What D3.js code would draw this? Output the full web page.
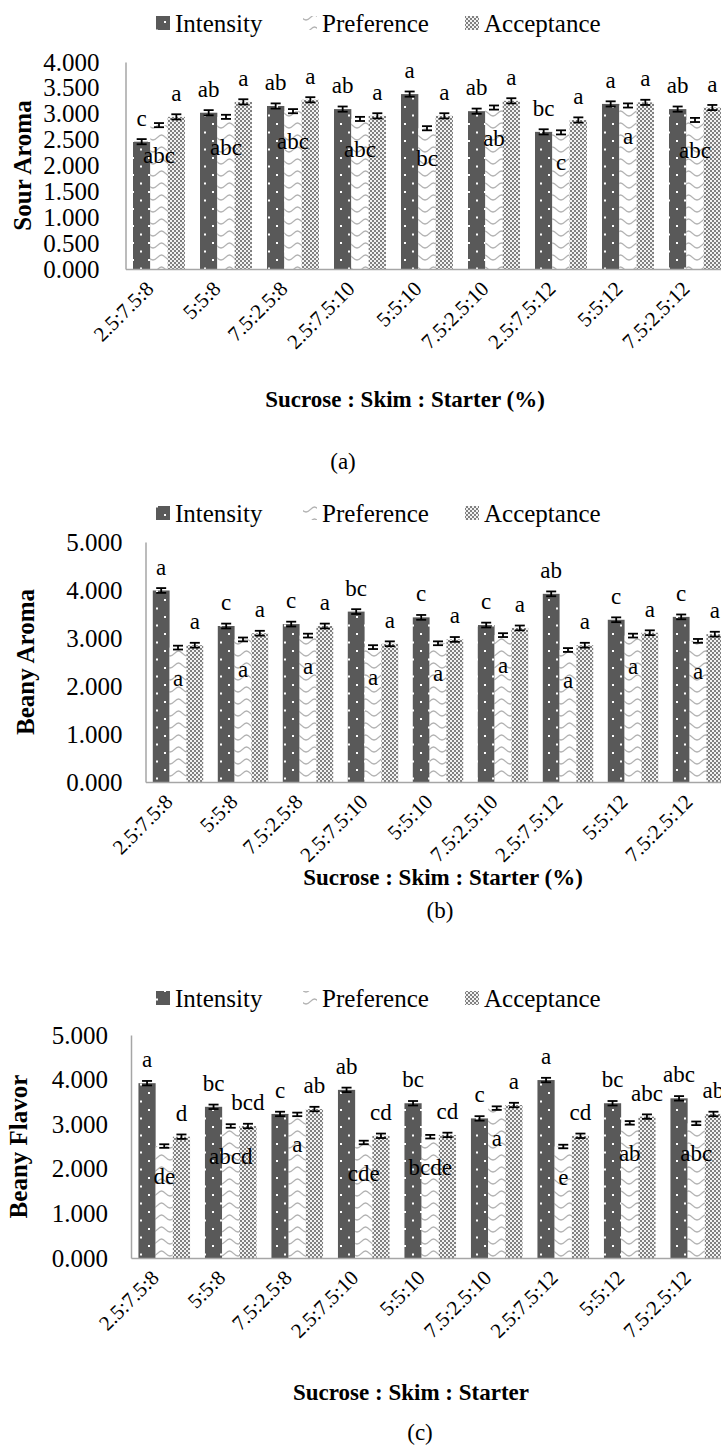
<!DOCTYPE html>
<html>
<head>
<meta charset="utf-8">
<script src="https://cdn.jsdelivr.net/npm/d3@7"></script>
<style>
    body { margin: 0; background: #fff; }
    svg { display: block; }
    svg text { font-family: "Liberation Serif", "Times New Roman", serif; }
</style>
</head>
<body>
<svg id="chart" width="721" height="1445"></svg>
<script>
// Data
const categories = ["2.5:7.5:8", "5:5:8", "7.5:2.5:8", "2.5:7.5:10", "5:5:10", "7.5:2.5:10", "2.5:7.5:12", "5:5:12", "7.5:2.5:12"];
const seriesNames = ["Intensity", "Preference", "Acceptance"];

// (a) Sour Aroma
const sourIntensity = [2.46, 3.02, 3.15, 3.09, 3.38, 3.05, 2.65, 3.19, 3.09];
const sourPreference = [2.78, 2.94, 3.05, 2.90, 2.72, 3.12, 2.64, 3.16, 2.88];
const sourAcceptance = [2.94, 3.23, 3.27, 2.96, 2.96, 3.25, 2.88, 3.22, 3.12];
const sourIntensityErr = [0.05, 0.05, 0.05, 0.05, 0.05, 0.05, 0.05, 0.05, 0.05];
const sourPreferenceErr = [0.04, 0.04, 0.04, 0.04, 0.04, 0.04, 0.04, 0.04, 0.04];
const sourAcceptanceErr = [0.05, 0.05, 0.05, 0.05, 0.05, 0.05, 0.05, 0.05, 0.05];
const sourIntensityLetters = ["c", "ab", "ab", "ab", "a", "ab", "bc", "a", "ab"];
const sourPreferenceLetters = ["abc", "abc", "abc", "abc", "bc", "ab", "c", "a", "abc"];
const sourAcceptanceLetters = ["a", "a", "a", "a", "a", "a", "a", "a", "a"];
const sourTicks = [0, 0.5, 1, 1.5, 2, 2.5, 3, 3.5, 4];

// (b) Beany Aroma
const aromaIntensity = [3.99, 3.25, 3.29, 3.55, 3.43, 3.27, 3.92, 3.38, 3.44];
const aromaPreference = [2.80, 2.97, 3.05, 2.81, 2.89, 3.06, 2.75, 3.05, 2.94];
const aromaAcceptance = [2.85, 3.10, 3.25, 2.88, 2.97, 3.21, 2.85, 3.11, 3.08];
const aromaIntensityErr = [0.05, 0.05, 0.05, 0.05, 0.05, 0.05, 0.05, 0.05, 0.05];
const aromaPreferenceErr = [0.04, 0.04, 0.04, 0.04, 0.04, 0.04, 0.04, 0.04, 0.04];
const aromaAcceptanceErr = [0.05, 0.05, 0.05, 0.05, 0.05, 0.05, 0.05, 0.05, 0.05];
const aromaIntensityLetters = ["a", "c", "c", "bc", "c", "c", "ab", "c", "c"];
const aromaPreferenceLetters = ["a", "a", "a", "a", "a", "a", "a", "a", "a"];
const aromaAcceptanceLetters = ["a", "a", "a", "a", "a", "a", "a", "a", "a"];
const aromaTicks = [0, 1, 2, 3, 4, 5];

// (c) Beany Flavor
const flavorIntensity = [3.92, 3.39, 3.23, 3.77, 3.47, 3.13, 3.99, 3.47, 3.58];
const flavorPreference = [2.51, 2.96, 3.22, 2.59, 2.72, 3.36, 2.50, 3.03, 3.02];
const flavorAcceptance = [2.72, 2.96, 3.34, 2.74, 2.76, 3.43, 2.74, 3.17, 3.23];
const flavorIntensityErr = [0.05, 0.05, 0.05, 0.05, 0.05, 0.05, 0.05, 0.05, 0.05];
const flavorPreferenceErr = [0.04, 0.04, 0.04, 0.04, 0.04, 0.04, 0.04, 0.04, 0.04];
const flavorAcceptanceErr = [0.05, 0.05, 0.05, 0.05, 0.05, 0.05, 0.05, 0.05, 0.05];
const flavorIntensityLetters = ["a", "bc", "c", "ab", "bc", "c", "a", "bc", "abc"];
const flavorPreferenceLetters = ["de", "abcd", "a", "cde", "bcde", "a", "e", "ab", "abc"];
const flavorAcceptanceLetters = ["d", "bcd", "ab", "cd", "cd", "a", "cd", "abc", "ab"];
const flavorTicks = [0, 1, 2, 3, 4, 5];


//Helpers
const translate = (x, y) => `translate(${x}, ${y})`;
const svg = d3.select('#chart');
const fmt = d3.format('.3f');

// Patterns (Excel-ish fills)
const defs = svg.append('defs');
const patInt = defs.append('pattern').attr('id', 'pat-int')
    .attr('patternUnits', 'userSpaceOnUse').attr('width', 16).attr('height', 17);
patInt.append('rect').attr('width', 16).attr('height', 17).attr('fill', '#595959');
patInt.append('rect').attr('x', 4).attr('y', 4).attr('width', 2).attr('height', 2).attr('fill', '#fff');
patInt.append('rect').attr('x', 12).attr('y', 12.5).attr('width', 2).attr('height', 2).attr('fill', '#fff');

const patPref = defs.append('pattern').attr('id', 'pat-pref')
    .attr('patternUnits', 'userSpaceOnUse').attr('width', 17).attr('height', 12);
patPref.append('rect').attr('width', 17).attr('height', 12).attr('fill', '#fff');
patPref.append('path')
    .attr('d', 'M0,8 C4,8 5,3 8.5,3 C12,3 13,8 17,8')
    .attr('fill', 'none').attr('stroke', '#b3b3b3').attr('stroke-width', 1.4);

const patAcc = defs.append('pattern').attr('id', 'pat-acc')
    .attr('patternUnits', 'userSpaceOnUse').attr('width', 4).attr('height', 4);
patAcc.append('rect').attr('width', 4).attr('height', 4).attr('fill', '#f2f2f2');
patAcc.append('rect').attr('width', 2).attr('height', 2).attr('fill', '#808080');
patAcc.append('rect').attr('x', 2).attr('y', 2).attr('width', 2).attr('height', 2).attr('fill', '#808080');

const fills = ['url(#pat-int)', 'url(#pat-pref)', 'url(#pat-acc)'];
const letterOffset = [-24, 30, -24];

const panels = [
    {
        yTitle: 'Sour Aroma', xTitle: 'Sucrose : Skim : Starter (%)', tag: '(a)',
        values: [sourIntensity, sourPreference, sourAcceptance],
        errs: [sourIntensityErr, sourPreferenceErr, sourAcceptanceErr],
        letters: [sourIntensityLetters, sourPreferenceLetters, sourAcceptanceLetters],
        ticks: sourTicks, yMax: 4,
        legendY: 32, top: 62, bottom: 269, left: 125.5, right: 728.5, tickPad: 26,
        yTitleX: 22, xTitleX: 405, xTitleY: 407, tagX: 343, tagY: 469,
    },
    {
        yTitle: 'Beany Aroma', xTitle: 'Sucrose : Skim : Starter (%)', tag: '(b)',
        values: [aromaIntensity, aromaPreference, aromaAcceptance],
        errs: [aromaIntensityErr, aromaPreferenceErr, aromaAcceptanceErr],
        letters: [aromaIntensityLetters, aromaPreferenceLetters, aromaAcceptanceLetters],
        ticks: aromaTicks, yMax: 5,
        legendY: 522, top: 542, bottom: 782, left: 145.5, right: 730.5, tickPad: 23,
        yTitleX: 25, xTitleX: 443, xTitleY: 885, tagX: 440, tagY: 918,
    },
    {
        yTitle: 'Beany Flavor', xTitle: 'Sucrose : Skim : Starter', tag: '(c)',
        values: [flavorIntensity, flavorPreference, flavorAcceptance],
        errs: [flavorIntensityErr, flavorPreferenceErr, flavorAcceptanceErr],
        letters: [flavorIntensityLetters, flavorPreferenceLetters, flavorAcceptanceLetters],
        ticks: flavorTicks, yMax: 5,
        legendY: 1007, top: 1035, bottom: 1258, left: 131, right: 729.5, tickPad: 23,
        yTitleX: 18, xTitleX: 411, xTitleY: 1400, tagX: 420, tagY: 1440,
    },
];

const legendX = [156, 303, 465];

function drawPanel(p) {
    const g = svg.append('g');

    const x = d3.scaleBand()
        .domain(categories)
        .range([p.left, p.right])
        .paddingInner(0.224)
        .paddingOuter(0.112);
    const xs = d3.scaleBand()
        .domain(seriesNames)
        .range([0, x.bandwidth()]);
    const y = d3.scaleLinear([0, p.yMax], [p.bottom, p.top]);

    //Legend
    const leg = g.append('g');
    seriesNames.forEach((name, i) => {
        leg.append('rect')
            .attr('x', legendX[i]).attr('y', p.legendY - 16)
            .attr('width', 14).attr('height', 14)
            .attr('fill', fills[i]);
        leg.append('text')
            .attr('x', legendX[i] + 19).attr('y', p.legendY)
            .attr('font-size', 25)
            .text(name);
    });

    //Bars
    seriesNames.forEach((name, si) => {
        const vals = p.values[si];
        g.append('g').selectAll('rect')
            .data(categories)
            .join('rect')
            .attr('x', (c) => x(c) + xs(name))
            .attr('y', (c, i) => y(vals[i]))
            .attr('width', xs.bandwidth())
            .attr('height', (c, i) => y(0) - y(vals[i]))
            .attr('fill', fills[si]);
    });

    //Error bars
    seriesNames.forEach((name, si) => {
        const vals = p.values[si];
        const errs = p.errs[si];
        const eg = g.append('g').attr('stroke', '#000').attr('stroke-width', 1.8);
        categories.forEach((c, i) => {
            const cx = x(c) + xs(name) + xs.bandwidth() / 2;
            const y1 = y(vals[i] - errs[i]);
            const y2 = y(vals[i] + errs[i]);
            eg.append('line').attr('x1', cx).attr('x2', cx).attr('y1', y1).attr('y2', y2);
            eg.append('line').attr('x1', cx - 5).attr('x2', cx + 5).attr('y1', y1).attr('y2', y1);
            eg.append('line').attr('x1', cx - 5).attr('x2', cx + 5).attr('y1', y2).attr('y2', y2);
        });
    });

    //Letters
    seriesNames.forEach((name, si) => {
        const vals = p.values[si];
        g.append('g').selectAll('text')
            .data(p.letters[si])
            .join('text')
            .attr('x', (d, i) => x(categories[i]) + xs(name) + xs.bandwidth() / 2)
            .attr('y', (d, i) => y(vals[i]) + letterOffset[si])
            .attr('dy', '0.35em')
            .attr('text-anchor', 'middle')
            .attr('font-size', 23)
            .text(d => d);
    });

    //Axis
    const yAxis = d3.axisLeft(y)
        .tickValues(p.ticks)
        .tickFormat(fmt)
        .tickSize(0)
        .tickPadding(p.tickPad);
    const yG = g.append('g')
        .attr('transform', translate(p.left, 0))
        .call(yAxis)
        .attr('font-size', 25);
    yG.select('.domain').attr('stroke', '#a6a6a6').attr('stroke-width', 1.5);
    yG.selectAll('text').attr('fill', '#000');

    const xAxis = d3.axisBottom(x).tickSize(0).tickSizeOuter(0);
    const xG = g.append('g')
        .attr('transform', translate(0, p.bottom))
        .call(xAxis)
        .attr('font-size', 21);
    xG.select('.domain').attr('stroke', '#a6a6a6').attr('stroke-width', 1.5);
    xG.selectAll('.tick text')
        .attr('fill', '#000')
        .attr('text-anchor', 'end')
        .attr('dy', 0)
        .attr('y', 0)
        .attr('transform', 'translate(-4, 21) rotate(-45)');

    //Titles
    g.append('text')
        .attr('transform', translate(p.yTitleX, (p.top + p.bottom) / 2) + ' rotate(-90)')
        .attr('text-anchor', 'middle')
        .attr('dy', '0.35em')
        .attr('font-size', 25)
        .attr('font-weight', 'bold')
        .text(p.yTitle);
    g.append('text')
        .attr('x', p.xTitleX).attr('y', p.xTitleY)
        .attr('text-anchor', 'middle')
        .attr('font-size', 23)
        .attr('font-weight', 'bold')
        .text(p.xTitle);
    g.append('text')
        .attr('x', p.tagX).attr('y', p.tagY)
        .attr('text-anchor', 'middle')
        .attr('font-size', 23)
        .text(p.tag);
}

panels.forEach(drawPanel);
</script>
</body>
</html>
